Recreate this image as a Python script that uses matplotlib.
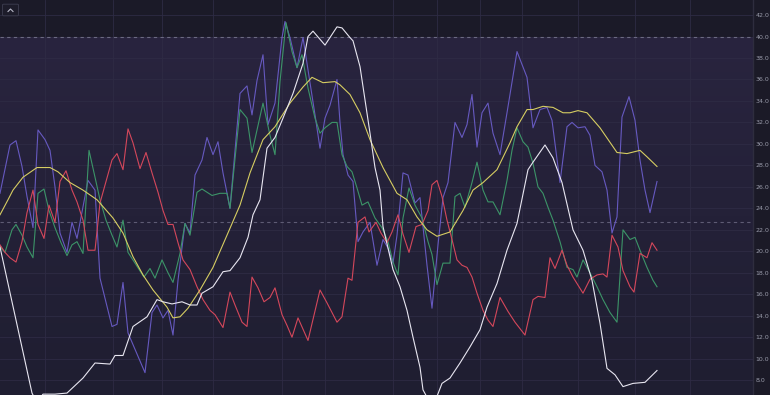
import matplotlib
matplotlib.use("Agg")
import matplotlib.pyplot as plt
import numpy as np
from matplotlib.colors import LinearSegmentedColormap
from matplotlib.patches import FancyBboxPatch
from matplotlib.lines import Line2D

# time index (bars) and values for each series
white_t = [0, 32, 37, 43, 55, 67, 83, 95, 110, 115, 123, 133, 147, 157, 163, 172, 182, 190, 197, 202,
           213, 223, 230, 240, 248, 253, 260, 267, 275, 283, 293, 303, 308, 313, 325, 337, 342, 350, 353, 360,
           365, 370, 375, 380, 383, 388, 393, 400, 407, 413, 420, 423, 430, 437, 442, 450, 460, 470, 480, 487,
           497, 507, 517, 528, 533, 545, 553, 562, 573, 583, 592, 600, 607, 615, 623, 633, 645, 657]
white_v = [20.4, 6.8, 5.9, 6.7, 6.7, 6.8, 8.2, 9.6, 9.5, 10.3, 10.3, 13.0, 13.9, 15.5, 15.3, 15.1, 15.3, 15.0, 15.0, 16.1,
           16.7, 18.1, 18.2, 19.4, 21.3, 23.4, 24.8, 29.6, 30.6, 32.4, 34.7, 37.5, 40.0, 40.5, 39.2, 40.9, 40.8, 39.9, 39.6, 37.2,
           34.1, 31.0, 27.8, 25.7, 22.3, 20.3, 18.3, 16.7, 14.5, 12.0, 9.2, 7.1, 5.9, 6.5, 7.7, 8.2, 9.6, 11.1, 12.7, 14.8,
           17.0, 20.1, 22.6, 27.6, 28.3, 29.9, 28.7, 26.4, 22.0, 20.1, 17.3, 13.3, 9.1, 8.5, 7.4, 7.7, 7.8, 8.9]

yellow_t = [0, 8, 13, 23, 37, 50, 58, 70, 83, 97, 113, 123, 133, 143, 153, 167, 173, 180, 188, 200,
            213, 227, 240, 250, 263, 275, 290, 303, 312, 323, 335, 340, 350, 360, 370, 383, 397, 407, 417, 427,
            437, 450, 463, 473, 483, 497, 510, 517, 527, 533, 543, 553, 563, 570, 578, 587, 600, 617, 627, 640,
            647, 657]
yellow_v = [23.4, 24.8, 25.7, 26.9, 27.8, 27.8, 27.4, 26.4, 25.7, 24.8, 23.1, 21.7, 19.5, 17.8, 16.4, 14.8, 13.8, 13.9, 14.7, 16.4,
            18.5, 21.5, 24.3, 27.3, 30.4, 31.6, 33.8, 35.3, 36.2, 35.7, 35.8, 35.5, 34.6, 32.9, 30.4, 27.8, 25.4, 24.8, 23.2, 22.0,
            21.4, 21.8, 23.8, 25.7, 26.4, 27.6, 30.1, 31.6, 33.2, 33.2, 33.5, 33.4, 32.9, 32.9, 33.1, 32.9, 31.5, 29.2, 29.1, 29.4,
            28.8, 27.9]

purple_t = [0, 10, 16, 22, 27, 33, 38, 45, 50, 55, 60, 67, 72, 77, 88, 95, 100, 112, 117, 123,
            128, 145, 152, 157, 163, 168, 173, 178, 185, 190, 195, 202, 207, 213, 218, 223, 230, 240, 247, 252,
            257, 263, 268, 275, 282, 285, 290, 297, 303, 315, 320, 325, 330, 337, 340, 343, 348, 353, 358, 363,
            370, 377, 383, 388, 393, 397, 403, 408, 415, 420, 427, 432, 438, 443, 448, 455, 462, 467, 472, 477,
            482, 488, 493, 500, 507, 517, 527, 533, 540, 547, 552, 560, 567, 572, 578, 585, 590, 595, 602, 607,
            612, 617, 622, 629, 635, 640, 645, 650, 657]
purple_v = [25.4, 29.9, 30.3, 27.9, 25.1, 22.2, 31.3, 30.4, 29.4, 26.0, 21.7, 19.9, 22.7, 21.2, 26.6, 25.7, 17.5, 13.0, 13.2, 17.1,
            12.4, 8.7, 14.3, 15.0, 13.8, 14.5, 12.2, 17.3, 22.6, 21.7, 27.1, 28.5, 30.6, 29.0, 30.2, 27.3, 24.0, 34.7, 35.4, 32.7,
            35.9, 38.3, 31.8, 33.8, 39.9, 41.4, 39.9, 37.1, 39.9, 32.7, 29.6, 32.4, 33.6, 36.0, 32.0, 29.0, 27.1, 26.5, 20.9, 21.8,
            22.7, 18.7, 21.1, 20.3, 18.9, 21.5, 27.3, 27.1, 24.5, 25.0, 18.7, 14.7, 20.6, 25.0, 26.4, 32.0, 30.6, 31.8, 34.6, 29.7,
            32.9, 33.8, 31.0, 29.0, 32.9, 38.6, 36.2, 31.5, 33.2, 33.4, 32.2, 26.4, 31.6, 32.0, 31.5, 31.6, 30.8, 28.0, 27.4, 25.7,
            21.7, 23.2, 32.5, 34.4, 32.2, 28.5, 25.7, 23.6, 26.5]

green_t = [0, 5, 12, 16, 22, 27, 33, 38, 44, 49, 55, 61, 67, 72, 77, 83, 89, 95, 100, 106,
           112, 117, 123, 128, 135, 144, 150, 155, 162, 168, 173, 180, 185, 190, 197, 202, 212, 220, 227, 230,
           240, 247, 252, 263, 270, 275, 280, 286, 292, 297, 302, 308, 315, 320, 325, 332, 337, 342, 347, 352,
           357, 362, 368, 375, 382, 388, 393, 398, 403, 409, 415, 422, 428, 432, 437, 443, 450, 455, 460, 465,
           472, 477, 483, 488, 493, 500, 507, 512, 517, 523, 528, 533, 538, 543, 548, 553, 560, 567, 573, 577,
           583, 590, 597, 603, 610, 617, 623, 630, 635, 640, 647, 653, 657]
green_v = [20.4, 19.9, 22.0, 22.5, 21.5, 20.4, 19.4, 25.4, 25.8, 23.8, 22.2, 20.8, 19.6, 20.6, 20.9, 19.8, 29.4, 26.9, 24.8, 22.9,
           21.5, 20.4, 22.9, 19.9, 18.9, 17.6, 18.4, 17.5, 19.2, 18.0, 17.1, 19.8, 22.6, 21.5, 25.5, 25.8, 25.2, 25.4, 25.4, 24.0,
           33.2, 32.4, 29.2, 33.8, 30.8, 29.0, 35.8, 41.3, 38.6, 37.1, 38.3, 35.2, 32.4, 31.0, 31.5, 32.0, 32.0, 29.0, 27.9, 27.4,
           25.9, 24.3, 24.6, 23.1, 22.2, 20.9, 19.0, 17.8, 23.1, 25.9, 24.3, 23.1, 20.9, 19.7, 16.9, 18.9, 18.9, 25.1, 25.4, 24.1,
           26.4, 28.3, 25.7, 24.6, 24.6, 23.4, 26.6, 29.4, 31.5, 30.2, 29.7, 28.2, 26.0, 25.4, 24.1, 22.9, 20.9, 18.5, 18.3, 17.6,
           19.2, 18.0, 16.7, 15.5, 14.3, 13.4, 22.0, 21.1, 21.3, 20.1, 18.5, 17.3, 16.7]

red_t = [0, 5, 10, 16, 22, 27, 33, 38, 44, 49, 55, 60, 66, 72, 77, 83, 88, 95, 100, 106,
         112, 117, 123, 128, 133, 140, 146, 152, 158, 163, 168, 173, 178, 183, 190, 197, 203, 210, 215, 223,
         230, 235, 242, 247, 252, 258, 264, 270, 275, 282, 287, 292, 298, 308, 320, 327, 337, 342, 348, 352,
         358, 365, 369, 376, 381, 387, 392, 398, 403, 409, 416, 422, 428, 432, 437, 442, 447, 452, 457, 462,
         467, 472, 477, 483, 488, 493, 500, 508, 515, 525, 533, 538, 545, 550, 555, 562, 567, 573, 583, 590,
         597, 603, 607, 612, 618, 623, 630, 634, 640, 647, 652, 657]
red_v = [20.6, 19.9, 19.4, 19.0, 20.9, 23.6, 25.7, 22.5, 21.2, 24.3, 22.7, 26.5, 27.5, 25.7, 24.6, 22.9, 20.1, 20.1, 24.5, 26.5,
         28.5, 29.1, 27.6, 31.4, 30.1, 27.7, 29.2, 27.3, 25.5, 23.8, 22.5, 22.5, 20.8, 19.2, 18.3, 16.7, 15.5, 14.5, 14.1, 12.9,
         16.2, 15.0, 13.4, 13.0, 17.6, 16.6, 15.3, 15.7, 16.6, 14.1, 13.1, 12.0, 13.8, 11.7, 16.4, 15.2, 13.4, 13.9, 17.5, 17.3,
         22.7, 23.2, 21.8, 22.7, 21.7, 20.8, 21.8, 23.4, 21.6, 19.9, 22.3, 22.5, 23.8, 26.2, 26.6, 25.1, 22.9, 21.1, 19.2, 18.7,
         18.5, 17.6, 16.1, 14.5, 13.6, 13.0, 15.7, 14.4, 13.4, 12.2, 15.5, 15.8, 15.7, 19.4, 18.4, 20.1, 18.7, 17.6, 16.1, 17.4,
         17.8, 17.9, 17.6, 21.5, 20.4, 18.2, 16.7, 16.2, 19.8, 19.4, 20.8, 20.1]

y_ticks = [8, 10, 12, 14, 16, 18, 20, 22, 24, 26, 28, 30, 32, 34, 36, 38, 40, 42]
upper_level = 40.0
lower_level = 22.7
x_grid = [45, 113, 162, 213, 282, 325, 393, 437, 480, 522, 578, 635, 690]

Y_MIN, Y_MAX = 6.62, 43.4
X_MAX = 753

fig = plt.figure(figsize=(7.7, 3.95), dpi=100, facecolor="#1b1a27")
ax = fig.add_axes([0, 0, 753 / 770, 1])
ax.set_facecolor("#1f1e30")
ax.set_xlim(0, X_MAX)
ax.set_ylim(Y_MIN, Y_MAX)

# 背景のグラデーション
cmap = LinearSegmentedColormap.from_list("bg", ["#1f1e31", "#29243f"])
grad = np.linspace(0, 1, 256).reshape(-1, 1)
ax.imshow(grad, extent=[0, X_MAX, Y_MIN, upper_level], origin="lower",
          aspect="auto", cmap=cmap, zorder=0)
ax.axhspan(upper_level, Y_MAX, color="#1b1a28", zorder=0.5, lw=0)

# グリッド
for yv in y_ticks:
    ax.axhline(yv, color="#2e2b44", lw=0.6, zorder=1)
for xv in x_grid:
    ax.axvline(xv, color="#2e2b44", lw=0.6, zorder=1)

ax.axhline(upper_level, color="#6c6a82", lw=0.8, ls=(0, (3, 3)), zorder=2)
ax.axhline(lower_level, color="#5e5b74", lw=0.8, ls=(0, (3, 3)), zorder=2)

# 各ライン
ax.plot(purple_t, purple_v, color="#6659c0", lw=0.8, zorder=3)
ax.plot(green_t, green_v, color="#3c9468", lw=0.8, zorder=3)
ax.plot(red_t, red_v, color="#d4475b", lw=0.8, zorder=3)
ax.plot(yellow_t, yellow_v, color="#d6cd62", lw=0.8, zorder=4)
ax.plot(white_t, white_v, color="#e8e6f1", lw=0.8, zorder=4)

# 右側の軸
ax.yaxis.tick_right()
ax.set_yticks(y_ticks)
ax.set_yticklabels([f"{v:.1f}" for v in y_ticks])
ax.tick_params(axis="y", length=0, pad=2, labelsize=4.5, labelcolor="#9a9cab")
ax.set_xticks([])
for side in ["left", "top", "bottom"]:
    ax.spines[side].set_visible(False)
ax.spines["right"].set_color("#2e2d3e")
ax.spines["right"].set_linewidth(1.0)

# 左上のボタン
btn = FancyBboxPatch((4 / 770, 1 - 15 / 395), 13 / 770, 10 / 395,
                     boxstyle="round,pad=0.002", transform=fig.transFigure,
                     facecolor="#1d1c2a", edgecolor="#3a3a4c", lw=0.7)
fig.patches.append(btn)
fig.add_artist(Line2D([8 / 770, 10.5 / 770, 13 / 770],
                      [1 - 11.5 / 395, 1 - 9 / 395, 1 - 11.5 / 395],
                      transform=fig.transFigure, color="#b8b8c8", lw=0.8))

plt.savefig("out.png", dpi=100, facecolor=fig.get_facecolor())
